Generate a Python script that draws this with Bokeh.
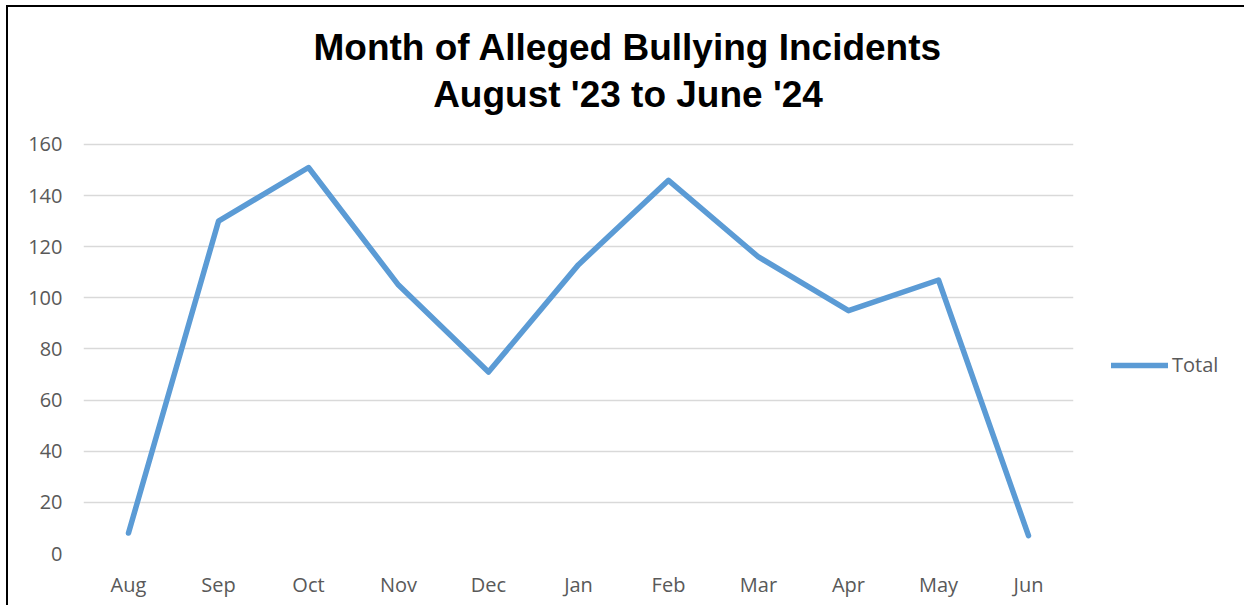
from bokeh.plotting import figure
from bokeh.models import (FactorRange, Range1d, FixedTicker, Label,
                          Legend, LegendItem)
from bokeh.embed import file_html
from bokeh.resources import INLINE

# ---- data ----
months = ["Aug", "Sep", "Oct", "Nov", "Dec", "Jan", "Feb", "Mar", "Apr", "May", "Jun"]
totals = [8, 130, 151, 105, 71, 113, 146, 116, 95, 107, 7]
y_ticks = [0, 20, 40, 60, 80, 100, 120, 140, 160]
series_name = "Total"
title_line1 = "Month of Alleged Bullying Incidents"
title_line2 = "August '23 to June '24"

FONT = "Open Sans"
TICK_COLOR = "#595959"
LINE_COLOR = "#5B9BD5"
GRID_COLOR = "#D9D9D9"

# frame spans from the canvas top down to the zero line; only 0..160 is gridded
p = figure(
    x_range=FactorRange(*months, range_padding=0),
    y_range=Range1d(0, 216.33),
    frame_width=990, frame_height=553,
    min_border_left=83, min_border_right=163,
    min_border_top=0, min_border_bottom=52,
    output_backend="svg", toolbar_location=None,
    background_fill_alpha=0, border_fill_alpha=0,
)
p.outline_line_color = None
# thin black frame on the left and top edges of the chart area (page background)
p.styles = {
    "background-color": "white",
    "background-image": "linear-gradient(#000, #000), linear-gradient(#000, #000)",
    "background-position": "6px 5px, 6px 5px",
    "background-size": "2px 100%, 100% 2px",
    "background-repeat": "no-repeat",
}

# axes
p.yaxis.ticker = FixedTicker(ticks=y_ticks)
for ax in (p.xaxis[0], p.yaxis[0]):
    ax.axis_line_color = None
    ax.major_tick_line_color = None
    ax.minor_tick_line_color = None
    ax.major_tick_out = 0
    ax.major_tick_in = 0
    ax.major_label_text_font = FONT
    ax.major_label_text_font_size = "20px"
    ax.major_label_text_color = TICK_COLOR
p.yaxis.major_label_standoff = 21
p.xaxis.major_label_standoff = 17

# grid
p.xgrid.grid_line_color = None
p.ygrid.grid_line_color = GRID_COLOR
p.ygrid.grid_line_width = 1.5

# line
r = p.line(months, totals, line_color=LINE_COLOR, line_width=5.5,
           line_join="round", line_cap="round")

# legend in the right panel
legend = Legend(items=[LegendItem(label=series_name, renderers=[r])],
                location=(38, 175), padding=10, margin=0,
                glyph_width=57, glyph_height=20, label_standoff=4,
                label_text_font=FONT, label_text_font_size="20px",
                label_text_color=TICK_COLOR,
                border_line_color=None, background_fill_alpha=0)
p.add_layout(legend, "right")

# title as two centered lines over the whole chart
tx = 6.05
for txt, yv in ((title_line1, 197.9), (title_line2, 179.6)):
    p.add_layout(Label(x=tx, y=yv, text=txt, text_align="center",
                       text_baseline="alphabetic",
                       text_font="Liberation Sans", text_font_style="bold",
                       text_font_size="37px", text_color="black"))

open("out.html", "w").write(file_html(p, INLINE))
